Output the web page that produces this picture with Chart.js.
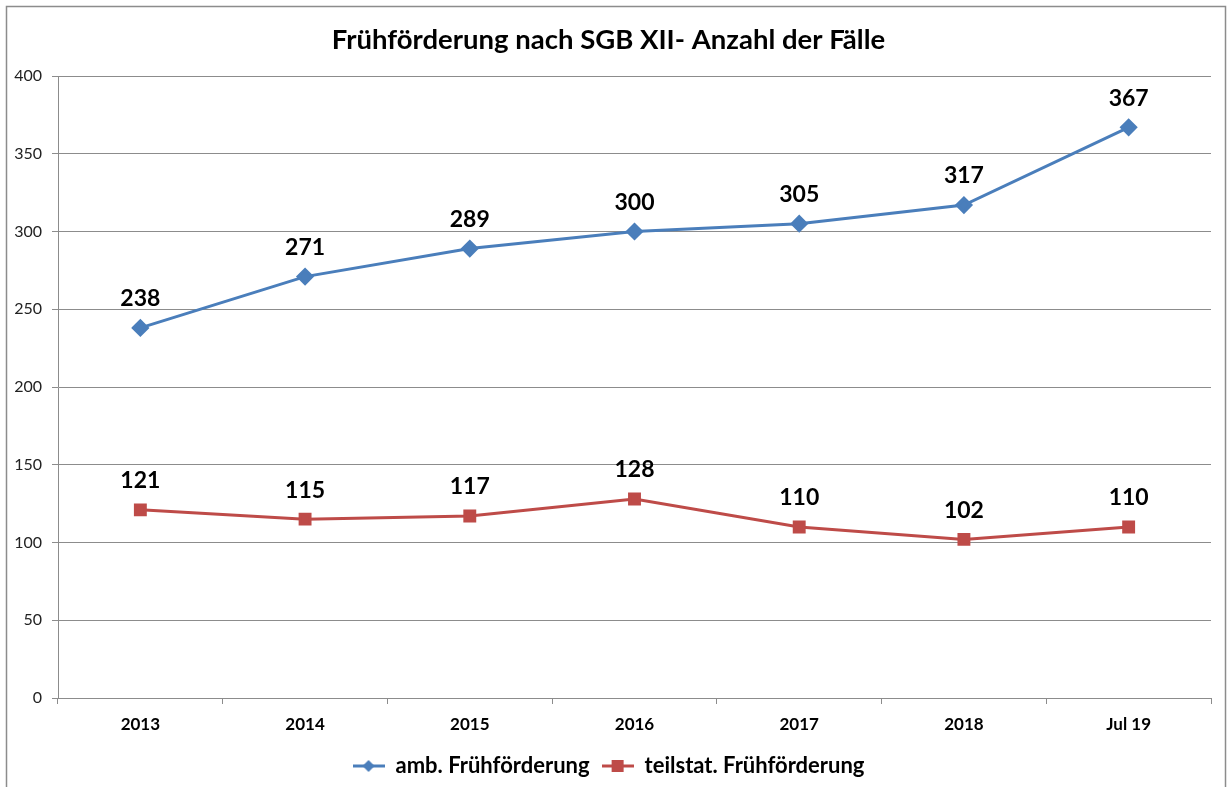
<!DOCTYPE html>
<html>
<head>
<meta charset="utf-8">
<script src="https://cdn.jsdelivr.net/npm/chart.js@4"></script>
<style>
  html, body { margin: 0; padding: 0; background: #fff; }
  #wrap { width: 1231px; height: 787px; }
</style>
</head>
<body>
<div id="wrap"><canvas id="chart" width="1231" height="787"></canvas></div>
<script>
const years = ['2013', '2014', '2015', '2016', '2017', '2018', 'Jul 19'];
const ambulant = [238, 271, 289, 300, 305, 317, 367];
const teilstat = [121, 115, 117, 128, 110, 102, 110];
const yTicks = { min: 0, max: 400, step: 50 };

const BLUE = '#4A7EBB';
const RED = '#BE4B48';
const FONT = 'Lato, "Open Sans", sans-serif';

// legend marker: short line with the point shape on it
function legendIcon(color, shape) {
  const c = document.createElement('canvas');
  c.width = 32; c.height = 16;
  const g = c.getContext('2d');
  g.strokeStyle = color; g.lineWidth = 3;
  g.beginPath(); g.moveTo(0, 8); g.lineTo(32, 8); g.stroke();
  g.fillStyle = color;
  if (shape === 'diamond') {
    g.beginPath(); g.moveTo(16, 2); g.lineTo(22, 8); g.lineTo(16, 14); g.lineTo(10, 8); g.closePath(); g.fill();
  } else {
    g.fillRect(10, 2, 12, 12);
  }
  return c;
}

const frame = {
  id: 'frame',
  beforeDraw(chart) {
    const ctx = chart.ctx;
    ctx.save();
    ctx.fillStyle = '#fff';
    ctx.fillRect(0, 0, chart.width, chart.height);
    ctx.strokeStyle = '#8c8c8c';
    ctx.lineWidth = 1.5;
    ctx.strokeRect(6.5, 6.5, 1219, 800);
    ctx.restore();
  }
};

const valueLabels = {
  id: 'valueLabels',
  afterDatasetsDraw(chart) {
    const ctx = chart.ctx;
    ctx.save();
    ctx.font = 'bold 23px ' + FONT;
    ctx.fillStyle = '#000';
    ctx.textAlign = 'center';
    ctx.textBaseline = 'middle';
    chart.data.datasets.forEach((ds, i) => {
      chart.getDatasetMeta(i).data.forEach((pt, j) => {
        ctx.fillText(String(ds.data[j]), pt.x, pt.y - 29);
      });
    });
    ctx.restore();
  }
};

new Chart(document.getElementById('chart'), {
  type: 'line',
  data: {
    labels: years,
    datasets: [
      {
        label: 'amb. Frühförderung',
        data: ambulant,
        borderColor: BLUE,
        backgroundColor: BLUE,
        borderWidth: 3,
        pointStyle: 'rectRot',
        pointRadius: 7,
        pointHoverRadius: 7,
        tension: 0
      },
      {
        label: 'teilstat. Frühförderung',
        data: teilstat,
        borderColor: RED,
        backgroundColor: RED,
        borderWidth: 3,
        pointStyle: 'rect',
        pointRadius: 7,
        pointHoverRadius: 7,
        tension: 0
      }
    ]
  },
  options: {
    responsive: false,
    animation: false,
    layout: { padding: { left: 6, right: 20, top: 0, bottom: 0 } },
    plugins: {
      title: {
        display: true,
        text: 'Frühförderung nach SGB XII- Anzahl der Fälle',
        color: '#000',
        font: { family: FONT, size: 27.5, weight: 'bold' },
        padding: { top: 24, bottom: 19 }
      },
      legend: {
        position: 'bottom',
        labels: {
          color: '#000',
          font: { family: FONT, size: 22, weight: 'bold' },
          usePointStyle: true,
          pointStyleWidth: 32,
          boxHeight: 16,
          padding: 12,
          generateLabels(chart) {
            const icons = [legendIcon(BLUE, 'diamond'), legendIcon(RED, 'square')];
            return chart.data.datasets.map((ds, i) => ({
              text: ds.label,
              pointStyle: icons[i],
              fillStyle: ds.borderColor,
              strokeStyle: ds.borderColor,
              fontColor: '#000',
              lineWidth: 0,
              datasetIndex: i,
              hidden: false
            }));
          }
        }
      },
      tooltip: { enabled: false }
    },
    scales: {
      x: {
        offset: true,
        grid: { offset: true, drawOnChartArea: false, drawTicks: true, tickLength: 6, color: '#8c8c8c' },
        border: { color: '#8c8c8c', width: 1 },
        ticks: { color: '#000', font: { family: FONT, size: 17, weight: 'bold' }, padding: 10, maxRotation: 0 },
        afterFit(scale) { scale.height = 45; }
      },
      y: {
        min: yTicks.min,
        max: yTicks.max,
        grid: { color: '#8c8c8c', tickLength: 6 },
        border: { color: '#8c8c8c', width: 1 },
        ticks: { stepSize: yTicks.step, color: '#222', font: { family: FONT, size: 16 }, padding: 10 },
        afterFit(scale) { scale.width = 52; }
      }
    }
  },
  plugins: [frame, valueLabels]
});
</script>
</body>
</html>
